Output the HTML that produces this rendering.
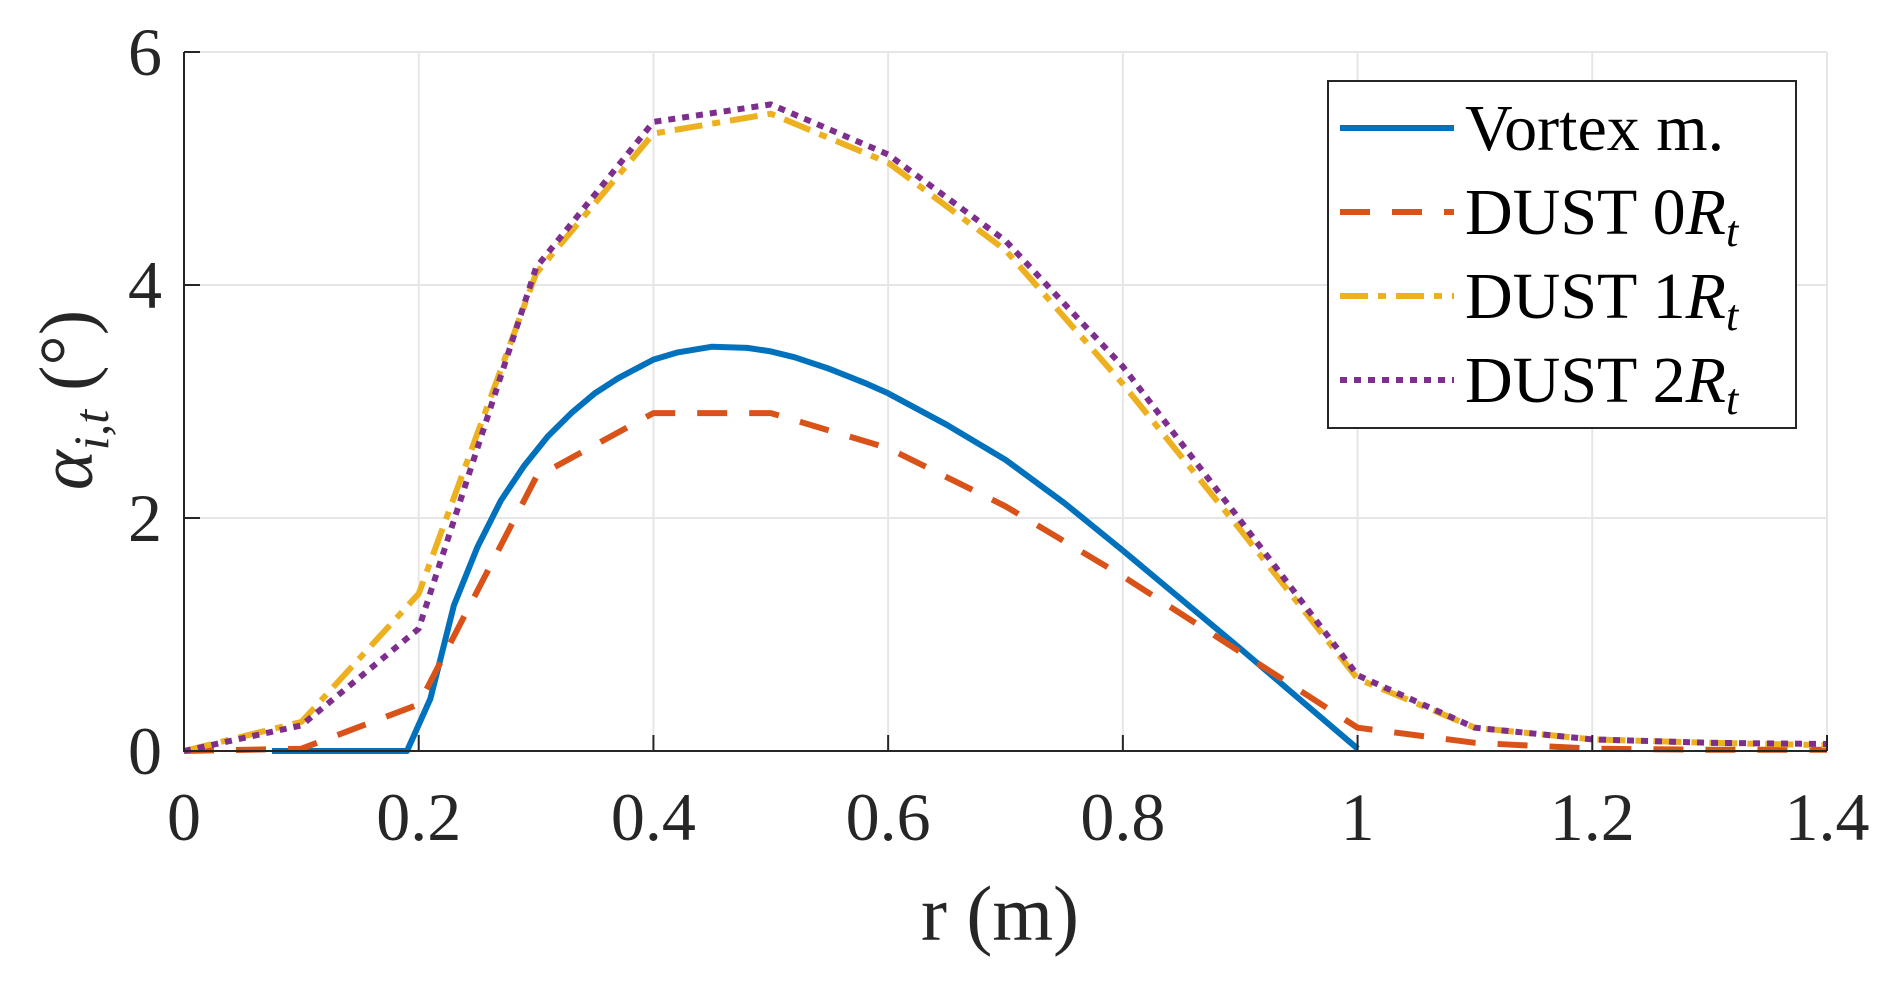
<!DOCTYPE html>
<html><head><meta charset="utf-8"><style>
html,body{margin:0;padding:0;background:#fff;}
svg{display:block;font-family:"Liberation Serif",serif;}
</style></head><body>
<svg id="chart" width="1892" height="982" viewBox="0 0 1892 982" xmlns="http://www.w3.org/2000/svg">
<g id="grid"></g>
<g id="series"></g>
<g id="axes"></g>
<text x="1000" y="940" font-size="78" text-anchor="middle" fill="#262626">r (m)</text>
<text transform="translate(92,400) rotate(-90)" font-size="76" text-anchor="middle" fill="#262626"><tspan font-style="italic">α</tspan><tspan font-style="italic" font-size="50" dy="16">i,t</tspan><tspan dy="-16"> (°)</tspan></text>
<g id="legend"></g>
</svg>
<script>
const xTicks=[0,0.2,0.4,0.6,0.8,1,1.2,1.4];
const xTickLabels=["0","0.2","0.4","0.6","0.8","1","1.2","1.4"];
const yTicks=[0,2,4,6];
const yTickLabels=["0","2","4","6"];
const vortexR=[0.075,0.19,0.21,0.22,0.23,0.25,0.27,0.29,0.31,0.33,0.35,0.37,0.4,0.42,0.45,0.48,0.5,0.52,0.55,0.58,0.6,0.65,0.7,0.75,0.8,0.85,0.9,0.95,1.0];
const vortexA=[0,0,0.45,0.85,1.25,1.75,2.15,2.45,2.7,2.9,3.07,3.2,3.36,3.42,3.47,3.46,3.43,3.38,3.28,3.16,3.07,2.8,2.5,2.13,1.72,1.3,0.88,0.45,0.02];
const dustR=[0,0.1,0.2,0.3,0.4,0.5,0.6,0.7,0.8,0.9,1.0,1.1,1.2,1.3,1.4];
const dust0=[0,0.02,0.4,2.35,2.9,2.9,2.6,2.1,1.5,0.85,0.2,0.07,0.02,0.01,0.01];
const dust1=[0,0.25,1.35,4.1,5.3,5.47,5.05,4.3,3.15,1.9,0.62,0.2,0.1,0.07,0.05];
const dust2=[0,0.22,1.05,4.15,5.4,5.55,5.12,4.38,3.3,1.98,0.65,0.2,0.1,0.07,0.06];
const L=184,R=1827,T=52,B=751;
const sx=v=>L+(v-0)/(1.4)*(R-L);
const sy=v=>B-(v-0)/6*(B-T);
const NS="http://www.w3.org/2000/svg";
function mk(tag,parent){const e=document.createElementNS(NS,tag);parent.appendChild(e);return e;}
const grid=document.getElementById('grid'),axes=document.getElementById('axes'),ser=document.getElementById('series'),leg=document.getElementById('legend');
xTicks.forEach((t,i)=>{
 const g=mk('line',grid);
 
 
 g.setAttribute('x1',sx(t));g.setAttribute('x2',sx(t));g.setAttribute('y1',T);g.setAttribute('y2',B);g.setAttribute('stroke','#e6e6e6');g.setAttribute('stroke-width','2');
 const tk=mk('line',axes);
 
 
 tk.setAttribute('x1',sx(t));tk.setAttribute('x2',sx(t));tk.setAttribute('y1',B);tk.setAttribute('y2',B-16);tk.setAttribute('stroke','#262626');tk.setAttribute('stroke-width','2');
 const tx=mk('text',axes);
 
 
 tx.setAttribute('x',sx(t));tx.setAttribute('y',840);tx.setAttribute('text-anchor','middle');tx.setAttribute('font-size','68');tx.setAttribute('fill','#262626');tx.textContent=xTickLabels[i];
});
yTicks.forEach((t,i)=>{
 const g=mk('line',grid);
 
 
 g.setAttribute('x1',L);g.setAttribute('x2',R);g.setAttribute('y1',sy(t));g.setAttribute('y2',sy(t));g.setAttribute('stroke','#e6e6e6');g.setAttribute('stroke-width','2');
 const tk=mk('line',axes);
 
 
 tk.setAttribute('x1',L);tk.setAttribute('x2',L+16);tk.setAttribute('y1',sy(t));tk.setAttribute('y2',sy(t));tk.setAttribute('stroke','#262626');tk.setAttribute('stroke-width','2');
 const tx=mk('text',axes);
 
 
 tx.setAttribute('x',162);tx.setAttribute('y',sy(t)+23);tx.setAttribute('text-anchor','end');tx.setAttribute('font-size','68');tx.setAttribute('fill','#262626');tx.textContent=yTickLabels[i];
});
const ax=mk('path',axes);


ax.setAttribute('d',`M${L},${T}L${L},${B}L${R},${B}`);ax.setAttribute('fill','none');ax.setAttribute('stroke','#262626');ax.setAttribute('stroke-width','2');
const series=[
 {name:'vortex-line',xs:vortexR,ys:vortexA,c:'#0072BD',d:'',label:'Vortex m.'},
 {name:'dust-0rt-line',xs:dustR,ys:dust0,c:'#D95319',d:'30 22',label:'DUST 0',sub:true},
 {name:'dust-1rt-line',xs:dustR,ys:dust1,c:'#EDB120',d:'28 10 8 10',label:'DUST 1',sub:true},
 {name:'dust-2rt-line',xs:dustR,ys:dust2,c:'#7E2F8E',d:'7 7',label:'DUST 2',sub:true}
];
series.forEach(s=>{
 const p=mk('path',ser);
 
 
 p.setAttribute('d',s.xs.map((x,i)=>(i?'L':'M')+sx(x).toFixed(1)+','+sy(s.ys[i]).toFixed(1)).join(''));
 p.setAttribute('fill','none');p.setAttribute('stroke',s.c);p.setAttribute('stroke-width','6');p.setAttribute('stroke-linejoin','round');
 if(s.d)p.setAttribute('stroke-dasharray',s.d);
});
const box=mk('rect',leg);


box.setAttribute('x',1328);box.setAttribute('y',81);box.setAttribute('width',468);box.setAttribute('height',347);box.setAttribute('fill','#fff');box.setAttribute('stroke','#262626');box.setAttribute('stroke-width','2');
const rowsY=[128,212,296,380];
series.forEach((s,i)=>{
 const y=rowsY[i];
 const l=mk('line',leg);
 
 
 l.setAttribute('x1',1340);l.setAttribute('x2',1454);l.setAttribute('y1',y);l.setAttribute('y2',y);l.setAttribute('stroke',s.c);l.setAttribute('stroke-width','6');
 if(s.d)l.setAttribute('stroke-dasharray',s.d);
 const t=mk('text',leg);
 
 
 t.setAttribute('x',1465);t.setAttribute('y',y+22);t.setAttribute('font-size','66');t.setAttribute('fill','#000');
 t.textContent=s.label;
 if(s.sub){
  const a=mk('tspan',t);a.setAttribute('font-style','italic');a.textContent='R';
  const b=mk('tspan',t);b.setAttribute('font-style','italic');b.setAttribute('font-size','44');b.setAttribute('dy','12');b.textContent='t';
 }
});
</script>
</body></html>
